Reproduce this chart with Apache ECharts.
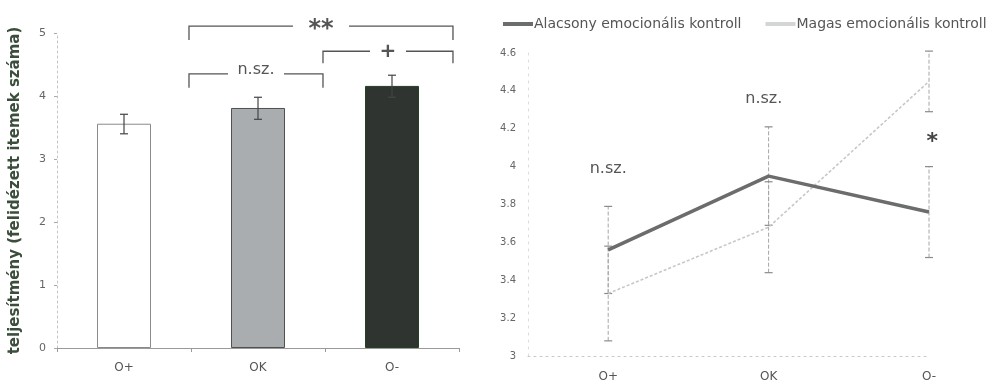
<!DOCTYPE html>
<html>
<head>
<meta charset="utf-8">
<script src="https://cdn.jsdelivr.net/npm/echarts@6/dist/echarts.min.js"></script>
<style>html,body{margin:0;padding:0;background:#fff}#c{width:987px;height:383px}</style>
</head>
<body>
<div id="c"></div>
<script>
// ---- data ----
const categories = ['O+', 'OK', 'O-'];
const barMeans = [3.56, 3.81, 4.16];
const barErrLow = [3.40, 3.63, 3.98];
const barErrHigh = [3.71, 3.98, 4.33];
const yTicksLeft = [0, 1, 2, 3, 4, 5];
// brackets: [fromIndex, toIndex, topLevel, legBottom]
const bracketSpans = [[0.485, 2.455, 5.11, 4.89], [1.485, 2.455, 4.71, 4.52], [0.485, 1.485, 4.35, 4.13]];
const bracketLabels = ['**', '+', 'n.sz.'];

const seriesNames = ['Alacsony emocionális kontroll', 'Magas emocionális kontroll'];
const lowCtrl = [3.56, 3.95, 3.76];
const lowErr = [0.23, 0.26, 0.24];
const highCtrl = [3.33, 3.68, 4.45];
const highErr = [0.25, 0.24, 0.16];
const yTicksRight = [3, 3.2, 3.4, 3.6, 3.8, 4, 4.2, 4.4, 4.6];
// right annotations: [xIndex, yValue]
const noteSpots = [[0, 3.99], [0.97, 4.36], [2.02, 4.13]];
const noteLabels = ['n.sz.', 'n.sz.', '*'];

const FONT = 'DejaVu Sans';
const chart = echarts.init(document.getElementById('c'));

const barColors = ['#ffffff', '#a9adb0', '#2f3431'];
const barBorders = ['#8a8a8a', '#4e5250', '#234023'];
const gapPx = { '**': 56, '+': 36, 'n.sz.': 56 };
const labelFont = { '**': 'bold 24px ' + FONT, '+': 'bold 20px ' + FONT, 'n.sz.': '16px ' + FONT };

const option = {
  animation: false,
  textStyle: { fontFamily: FONT },
  legend: {
    left: 498, top: 12, width: 700, itemWidth: 30, itemHeight: 4, itemGap: 24,
    textStyle: { fontFamily: FONT, fontSize: 14, color: '#555', padding: [0, 0, 0, -4] },
    data: [
      { name: seriesNames[0], icon: 'rect', itemStyle: { color: '#6b6d6c' } },
      { name: seriesNames[1], icon: 'rect', itemStyle: { color: '#d4d6d5' } }
    ]
  },
  grid: [
    { left: 57, top: 33, width: 402, height: 315 },
    { left: 528, top: 53, width: 401, height: 305 }
  ],
  xAxis: [
    { gridIndex: 0, type: 'category', data: categories, boundaryGap: true,
      axisLine: { lineStyle: { color: '#9a9a9a', width: 1 } },
      axisTick: { show: true, length: 4, lineStyle: { color: '#9a9a9a' } },
      axisLabel: { fontSize: 12, color: '#555', margin: 14, fontFamily: FONT } },
    { gridIndex: 1, type: 'value', min: -0.5, max: 2,
      axisLine: { onZero: false, lineStyle: { color: '#c8c8c8', type: [2, 4] } },
      axisTick: { show: false }, splitLine: { show: false },
      axisLabel: { customValues: [0, 1, 2], formatter: v => categories[v], fontSize: 12, color: '#555', margin: 15, fontFamily: FONT } },
    { gridIndex: 0, type: 'value', min: -0.5, max: 2.5, show: false }
  ],
  yAxis: [
    { gridIndex: 0, type: 'value', min: 0, max: 5, interval: 1,
      name: 'teljesítmény (felidézett itemek száma)', nameLocation: 'middle', nameGap: 34,
      nameTextStyle: { fontFamily: FONT, fontSize: 15, fontWeight: 'bold', color: '#3b4d3b' },
      axisLine: { show: true, onZero: false, lineStyle: { color: '#c4c4c4', type: [2, 3] } },
      axisTick: { show: true, length: 3, lineStyle: { color: '#aaa' } },
      splitLine: { show: false },
      axisLabel: { fontSize: 11, color: '#666', margin: 11, fontFamily: FONT } },
    { gridIndex: 1, type: 'value', min: 3, max: 4.6, interval: 0.2,
      axisLine: { show: true, onZero: false, lineStyle: { color: '#dcdcdc', type: [2, 5] } },
      axisTick: { show: false }, splitLine: { show: false },
      axisLabel: { fontSize: 10, color: '#666', margin: 12, fontFamily: FONT } }
  ],
  series: [
    { type: 'bar', xAxisIndex: 0, yAxisIndex: 0, barWidth: 54,
      data: barMeans.map((v, i) => ({ value: v, itemStyle: { color: barColors[i], borderColor: barBorders[i], borderWidth: 1 } })) },
    { type: 'custom', xAxisIndex: 0, yAxisIndex: 0, z: 5,
      data: barMeans.map((v, i) => [i, barErrLow[i], barErrHigh[i]]),
      renderItem: (params, api) => {
        const lo = api.coord([api.value(0), api.value(1)]);
        const hi = api.coord([api.value(0), api.value(2)]);
        const s = { stroke: '#444', lineWidth: 1.2 };
        return { type: 'group', children: [
          { type: 'line', shape: { x1: lo[0], y1: lo[1], x2: hi[0], y2: hi[1] }, style: s },
          { type: 'line', shape: { x1: lo[0] - 4, y1: lo[1], x2: lo[0] + 4, y2: lo[1] }, style: s },
          { type: 'line', shape: { x1: hi[0] - 4, y1: hi[1], x2: hi[0] + 4, y2: hi[1] }, style: s }
        ] };
      } },
    { type: 'custom', xAxisIndex: 2, yAxisIndex: 0, z: 5,
      data: bracketSpans,
      renderItem: (params, api) => {
        const lab = bracketLabels[params.dataIndex];
        const a = api.coord([api.value(0), api.value(2)]);
        const b = api.coord([api.value(1), api.value(2)]);
        const la = api.coord([api.value(0), api.value(3)]);
        const mid = (a[0] + b[0]) / 2, g = gapPx[lab] / 2;
        const s = { stroke: '#555', lineWidth: 1.3, fill: null };
        return { type: 'group', children: [
          { type: 'polyline', shape: { points: [[a[0], la[1]], [a[0], a[1]], [mid - g, a[1]]] }, style: s },
          { type: 'polyline', shape: { points: [[mid + g, a[1]], [b[0], b[1]], [b[0], la[1]]] }, style: s },
          { type: 'text', style: { text: lab, x: mid, y: a[1] + (lab === 'n.sz.' ? -4 : (lab === '**' ? 4 : 1)), align: 'center', verticalAlign: 'middle', font: labelFont[lab], fill: '#555' } }
        ] };
      } },
    { name: seriesNames[0], type: 'line', xAxisIndex: 1, yAxisIndex: 1, symbol: 'none', z: 4,
      lineStyle: { color: '#6b6d6c', width: 3.5 }, itemStyle: { color: '#6b6d6c' },
      data: lowCtrl.map((v, i) => [i, v]) },
    { name: seriesNames[1], type: 'line', xAxisIndex: 1, yAxisIndex: 1, symbol: 'none', z: 3,
      lineStyle: { color: '#c6c8c7', width: 1.6, type: [3, 2] }, itemStyle: { color: '#c6c8c7' },
      data: highCtrl.map((v, i) => [i, v]) },
    { type: 'custom', xAxisIndex: 1, yAxisIndex: 1, z: 2,
      data: lowCtrl.map((v, i) => [i, v - lowErr[i], v + lowErr[i]]).concat(highCtrl.map((v, i) => [i, v - highErr[i], v + highErr[i]])),
      renderItem: (params, api) => {
        const lo = api.coord([api.value(0), api.value(1)]);
        const hi = api.coord([api.value(0), api.value(2)]);
        const s = { stroke: '#a4a6a5', lineWidth: 1, lineDash: [4, 2] };
        const c = { stroke: '#8a8c8b', lineWidth: 1.2 };
        return { type: 'group', children: [
          { type: 'line', shape: { x1: lo[0], y1: lo[1], x2: hi[0], y2: hi[1] }, style: s },
          { type: 'line', shape: { x1: lo[0] - 4, y1: lo[1], x2: lo[0] + 4, y2: lo[1] }, style: c },
          { type: 'line', shape: { x1: hi[0] - 4, y1: hi[1], x2: hi[0] + 4, y2: hi[1] }, style: c }
        ] };
      } },
    { type: 'custom', xAxisIndex: 1, yAxisIndex: 1, z: 6,
      data: noteSpots,
      renderItem: (params, api) => {
        const p = api.coord([api.value(0), api.value(1)]);
        const lab = noteLabels[params.dataIndex];
        return { type: 'text', style: { text: lab, x: p[0], y: p[1], align: 'center', verticalAlign: 'middle',
          font: (lab === '*' ? 'bold 22px ' : '16px ') + FONT, fill: lab === '*' ? '#444' : '#555' } };
      } }
  ]
};
chart.setOption(option);
</script>
</body>
</html>
